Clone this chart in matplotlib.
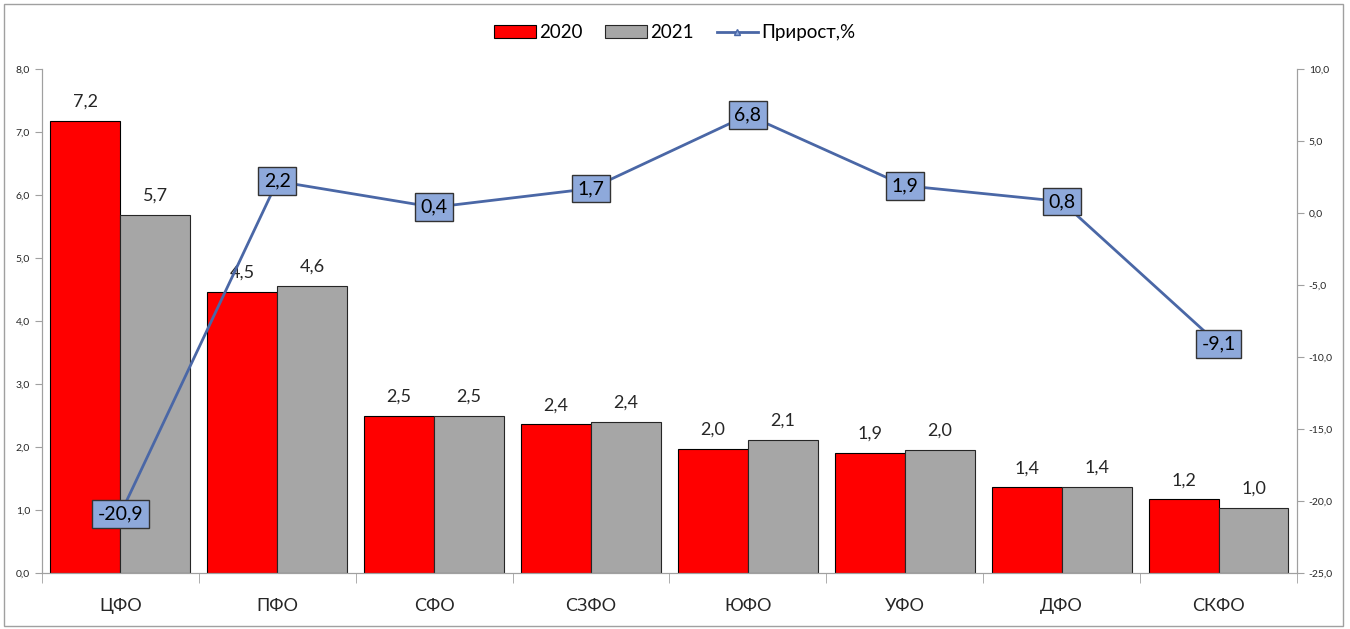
import numpy as np
import matplotlib
matplotlib.use("Agg")
import matplotlib.pyplot as plt
from matplotlib.patches import Rectangle

plt.rcParams['font.family'] = ['Lato', 'DejaVu Sans']

# data
regions = ['ЦФО', 'ПФО', 'СФО', 'СЗФО', 'ЮФО', 'УФО', 'ДФО', 'СКФО']
values_2020 = [7.18, 4.46, 2.49, 2.36, 1.97, 1.91, 1.36, 1.17]
values_2021 = [5.68, 4.56, 2.49, 2.40, 2.11, 1.96, 1.37, 1.03]
growth = [-20.9, 2.2, 0.4, 1.7, 6.8, 1.9, 0.8, -9.1]

left_ticks = np.arange(0, 8.1, 1.0)
right_ticks = np.arange(-25, 10.1, 5.0)


def fmt(v):
    return f"{v:.1f}".replace('.', ',')


fig = plt.figure(figsize=(13.5, 6.29), dpi=100)
ax = fig.add_axes([0.0311, 0.089, 0.9296, 0.8013])
ax2 = ax.twinx()

x = np.arange(len(regions))
w = 0.446

bars1 = ax.bar(x - w / 2, values_2020, w, color='#FF0000', edgecolor='black',
               linewidth=0.8, label='2020', zorder=2)
bars2 = ax.bar(x + w / 2, values_2021, w, color='#A6A6A6', edgecolor='#262626',
               linewidth=0.8, label='2021', zorder=2)

for b, v in zip(bars1, values_2020):
    ax.annotate(fmt(v), (b.get_x() + b.get_width() / 2, v), xytext=(0, 8),
                textcoords='offset points', ha='center', va='bottom',
                fontsize=13, color='#262626')
for b, v in zip(bars2, values_2021):
    ax.annotate(fmt(v), (b.get_x() + b.get_width() / 2, v), xytext=(0, 8),
                textcoords='offset points', ha='center', va='bottom',
                fontsize=13, color='#262626')

line, = ax2.plot(x, growth, color='#4A67A6', linewidth=2, marker='^',
                 markersize=5, markerfacecolor='#8EA9DB', markeredgecolor='#4A67A6',
                 label='Прирост,%', zorder=3)
for xi, g in zip(x, growth):
    ax2.text(xi, g, fmt(g), ha='center', va='center', fontsize=14, color='black',
             bbox=dict(boxstyle='square,pad=0.28', facecolor='#8EA9DB',
                       edgecolor='#333333', linewidth=1), zorder=4)

ax.set_xlim(-0.5, len(regions) - 0.5)
ax.set_ylim(0, 8)
ax2.set_ylim(-25, 10)
ax.set_yticks(left_ticks)
ax.set_yticklabels([fmt(t) for t in left_ticks])
ax2.set_yticks(right_ticks)
ax2.set_yticklabels([fmt(t) for t in right_ticks])

ax.set_xticks(x)
ax.set_xticklabels(regions, fontsize=13, color='#262626')
ax.set_xticks(np.arange(-0.5, len(regions), 1.0), minor=True)
ax.tick_params(axis='x', which='major', length=0, pad=18)
ax.tick_params(axis='x', which='minor', length=7, color='#A0A0A0', direction='out')
ax.tick_params(axis='y', labelsize=7.5, length=5, color='#A0A0A0', labelcolor='#262626')
ax2.tick_params(axis='y', labelsize=7.5, length=5, color='#A0A0A0', labelcolor='#262626')

for a in (ax, ax2):
    a.spines['top'].set_visible(False)
    for s in ('left', 'right', 'bottom'):
        a.spines[s].set_color('#A0A0A0')

handles = [bars1, bars2, line]
fig.legend(handles, ['2020', '2021', 'Прирост,%'], loc='center', ncol=3,
           bbox_to_anchor=(0.5, 0.948), frameon=False, fontsize=13.5,
           handlelength=2.2, handletextpad=0.2, columnspacing=1.2)

fig.patches.append(Rectangle((4 / 1350, 3 / 629), 1339 / 1350, 622 / 629,
                             transform=fig.transFigure, fill=False,
                             edgecolor='#A0A0A0', linewidth=1))

plt.savefig('out.png', dpi=100)
